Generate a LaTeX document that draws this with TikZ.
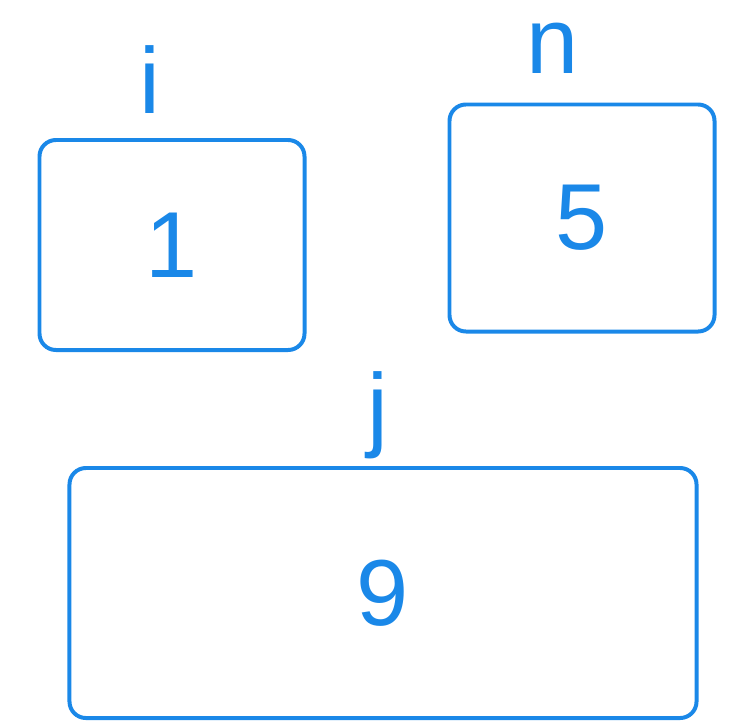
\documentclass[tikz,border=0pt]{standalone}
\usepackage{fontspec}
\setmainfont{Liberation Sans}
\usetikzlibrary{positioning}
\definecolor{pen}{RGB}{26,136,232}

\begin{document}
\begin{tikzpicture}[x=0.03cm,y=-0.03cm,
    box/.style={draw=pen, line width=3.4pt, rounded corners=14pt, text=pen,
        font=\fontsize{80}{96}\selectfont, inner sep=0pt},
    tag/.style={text=pen, font=\fontsize{80}{96}\selectfont, inner sep=0pt}]
\useasboundingbox (0,0) rectangle (731,721);

% the three cells
\node[box, minimum width=7.95cm, minimum height=6.3cm] (box1) at (172,245) {1};
\node[box, minimum width=7.95cm, minimum height=6.81cm] (box5) at (582,218) {5};
\node[box, minimum width=18.81cm, minimum height=7.5cm] (box9) at (383,593) {9};

% names above them
\node[tag] (labi) at (150,80) {i};
\node[tag] (labn) at (553,48) {n};
\node[tag] (labj) at (378,415) {j};

\end{tikzpicture}
\end{document}
